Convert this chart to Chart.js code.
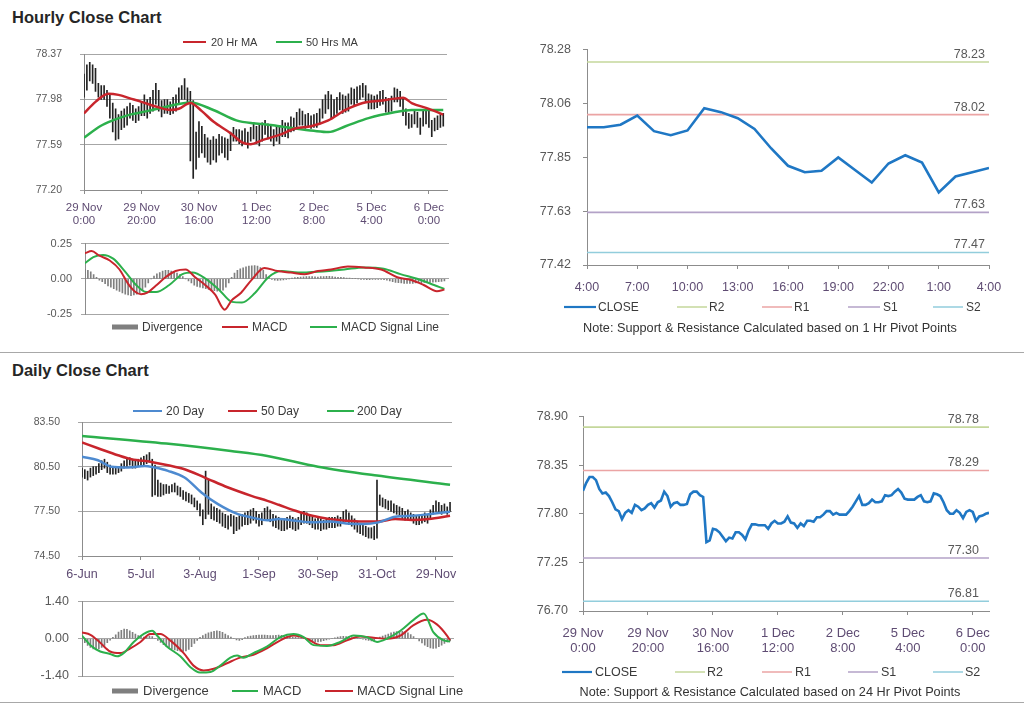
<!DOCTYPE html>
<html><head><meta charset="utf-8">
<script src="https://cdn.jsdelivr.net/npm/chart.js@4.4.1/dist/chart.umd.min.js"></script>
<style>
html,body{margin:0;padding:0;background:#fff;}
body{width:1024px;height:706px;position:relative;overflow:hidden;font-family:"Liberation Sans",Arial,sans-serif;}
canvas{position:absolute;}
.title{position:absolute;font-weight:bold;font-size:16.5px;line-height:16px;color:#262626;}
.sep{position:absolute;left:0;width:1024px;height:1px;background:#a8a8a8;}
.note{position:absolute;left:520px;width:500px;text-align:center;font-size:12.7px;line-height:14px;color:#333;}
</style></head>
<body>
<div class="title" style="left:12px;top:9px">Hourly Close Chart</div>
<div class="title" style="left:12px;top:362px">Daily Close Chart</div>
<div class="sep" style="top:352px"></div>
<div class="sep" style="top:702px"></div>
<canvas id="c1" width="470" height="205" style="left:0;top:30px"></canvas>
<canvas id="c2" width="470" height="114" style="left:0;top:228px"></canvas>
<canvas id="c3" width="534" height="320" style="left:490px;top:30px"></canvas>
<canvas id="c4" width="470" height="200" style="left:0;top:395px"></canvas>
<canvas id="c5" width="475" height="117" style="left:0;top:585px"></canvas>
<canvas id="c6" width="534" height="306" style="left:490px;top:398px"></canvas>
<div class="note" style="top:321px">Note: Support &amp; Resistance Calculated based on 1 Hr Pivot Points</div>
<div class="note" style="top:685px">Note: Support &amp; Resistance Calculated based on 24 Hr Pivot Points</div>
<script>
// ================= DATA =================
// Hourly (29 Nov 0:00 -> 6 Dec ~5:00), one value per hour
const hourTickVals = [0,20,40,60,80,100,120];
const hourTickLabels = [['29 Nov','0:00'],['29 Nov','20:00'],['30 Nov','16:00'],['1 Dec','12:00'],['2 Dec','8:00'],['5 Dec','4:00'],['6 Dec','0:00']];
const hourlyHigh = [
78.20,78.28,78.30,78.28,78.25,78.12,78.10,78.10,78.06,78.02,
77.95,77.90,77.85,77.88,77.90,77.92,77.95,77.93,77.90,77.92,
77.96,78.02,77.98,78.00,78.06,78.12,78.06,77.97,77.98,77.98,
77.96,78.00,78.02,78.08,78.10,78.16,78.08,78.05,77.97,77.70,
77.79,77.75,77.68,77.65,77.63,77.66,77.64,77.68,77.66,77.65,
77.64,77.70,77.74,77.72,77.72,77.71,77.73,77.70,77.74,77.78,
77.75,77.76,77.78,77.80,77.77,77.75,77.72,77.75,77.74,77.80,
77.78,77.78,77.83,77.82,77.87,77.90,77.88,77.85,77.86,77.84,
77.85,77.86,77.90,77.98,78.02,78.05,78.02,77.98,78.00,78.04,
78.02,78.01,78.03,78.08,78.07,78.09,78.10,78.12,78.10,78.03,
78.02,78.01,78.02,78.05,78.06,78.00,77.99,78.01,78.08,78.07,
78.05,77.99,77.90,77.86,77.85,77.88,77.87,77.82,77.88,77.89,
77.88,77.80,77.82,77.84,77.85,77.86];
const hourlyLow = [
78.00,78.06,78.14,78.12,78.05,78.00,77.98,77.98,77.92,77.82,
77.70,77.63,77.64,77.72,77.74,77.76,77.82,77.80,77.78,77.80,
77.84,77.84,77.82,77.86,77.88,77.94,77.88,77.83,77.86,77.86,
77.85,77.86,77.88,77.95,77.98,77.98,77.95,77.45,77.30,77.38,
77.48,77.52,77.48,77.44,77.42,77.46,77.44,77.50,77.52,77.48,
77.46,77.54,77.62,77.62,77.60,77.58,77.60,77.56,77.62,77.64,
77.60,77.58,77.62,77.68,77.64,77.62,77.58,77.62,77.60,77.66,
77.66,77.65,77.70,77.71,77.73,77.76,77.76,77.73,77.75,77.73,
77.74,77.74,77.77,77.82,77.86,77.90,77.82,77.83,77.86,77.89,
77.86,77.87,77.88,77.94,77.93,77.95,77.98,78.00,77.96,77.90,
77.90,77.90,77.91,77.93,77.94,77.87,77.86,77.88,77.96,77.96,
77.92,77.84,77.76,77.73,77.74,77.77,77.74,77.68,77.75,77.77,
77.74,77.66,77.71,77.72,77.74,77.75];
const hourlyClose = [
78.06,78.15,78.215,78.215,78.18,78.08,78.03,78.04,78.00,77.93,
77.85,77.83,77.74,77.81,77.84,77.81,77.90,77.88,77.84,77.86,
77.90,77.92,77.87,77.93,77.95,78.05,78.00,77.88,77.92,77.93,
77.90,77.90,77.91,78.02,78.05,78.05,78.01,77.99,77.48,77.50,
77.63,77.62,77.59,77.54,77.49,77.53,77.52,77.59,77.59,77.56,
77.51,77.61,77.68,77.68,77.67,77.67,77.67,77.63,77.69,77.72,
77.69,77.69,77.71,77.77,77.70,77.69,77.64,77.69,77.66,77.72,
77.72,77.71,77.76,77.76,77.79,77.83,77.83,77.79,77.81,77.79,
77.79,77.79,77.83,77.88,77.94,78.00,77.90,77.90,77.92,77.96,
77.93,77.93,77.94,78.01,78.00,78.01,78.05,78.08,78.04,77.97,
77.96,77.96,77.96,77.99,78.01,77.94,77.93,77.94,78.03,78.02,
78.00,77.93,77.84,77.80,77.80,77.84,77.81,77.75,77.82,77.84,
77.82,77.72,77.77,77.78,77.80,77.81];
const ma20Hours  = [0,4,8.5,12,16,20,25,30,33,37,41,45,51,55,58,62,68,73.5,79,85,91,97,103,109,111,114,120,125];
const ma20Values = [77.86,77.96,78.03,78.02,77.99,77.96,77.92,77.89,77.90,77.95,77.88,77.79,77.69,77.61,77.595,77.63,77.675,77.73,77.75,77.80,77.89,77.95,77.97,77.99,77.995,77.95,77.90,77.85];
const ma50Hours  = [0,5.6,10,16,22,29,37,45,53,59,62,68,73.5,80,85,91,99,108,114,125];
const ma50Values = [77.65,77.75,77.80,77.85,77.88,77.92,77.955,77.89,77.80,77.775,77.77,77.75,77.73,77.71,77.70,77.75,77.82,77.87,77.89,77.89];
const hPriceTickVals = [77.20,77.59,77.98,78.37];
const hPriceTickLabels = ['77.20','77.59','77.98','78.37'];

const hDivergence = [
0.065,0.06,0.05,0.03,0.01,-0.01,-0.02,-0.035,-0.05,-0.06,
-0.07,-0.08,-0.09,-0.10,-0.11,-0.115,-0.12,-0.115,-0.11,-0.10,
-0.08,-0.06,-0.03,0.0,0.02,0.035,0.045,0.055,0.06,0.06,
0.055,0.05,0.04,0.03,0.015,0.0,-0.015,-0.03,-0.045,-0.055,
-0.06,-0.065,-0.07,-0.075,-0.08,-0.085,-0.088,-0.085,-0.08,-0.06,
-0.03,0.01,0.04,0.06,0.07,0.078,0.085,0.09,0.092,0.094,
0.09,0.08,0.06,0.03,0.01,-0.005,-0.01,-0.012,-0.01,-0.008,
-0.005,0.0,0.005,0.008,0.01,0.012,0.014,0.015,0.016,0.015,
0.014,0.013,0.015,0.016,0.018,0.017,0.015,0.012,0.01,0.01,
0.008,0.006,0.005,0.004,0.003,0.0,-0.003,-0.005,-0.006,-0.006,
-0.005,-0.004,-0.003,-0.004,-0.006,-0.01,-0.015,-0.02,-0.025,-0.028,
-0.03,-0.032,-0.033,-0.033,-0.032,-0.03,-0.028,-0.027,-0.026,-0.026,
-0.025,-0.024,-0.022,-0.02,-0.018,-0.015];
const hMacdHours  = [0,2.3,5,8.6,12,14.9,17.2,19.5,21.7,24.6,28,31.5,35,38.3,41.8,45.2,48.6,51,54.3,57.8,62.4,67,71.6,76.4,81,85.6,91.4,97,103,108.6,113.2,117.8,122.4,125];
const hMacdValues = [0.182,0.197,0.164,0.13,0.066,-0.033,-0.088,-0.11,-0.099,-0.05,0.011,0.055,0.066,0.011,-0.044,-0.11,-0.219,-0.153,-0.099,-0.011,0.077,0.055,0.044,0.033,0.055,0.066,0.088,0.081,0.066,0.011,-0.007,-0.044,-0.088,-0.077];
const hSignalHours  = [0,2.9,6.3,9.8,13.8,17.8,21.3,24.7,29.3,33.9,37.4,42,46.6,51.1,54.6,59.2,63.8,68.4,74.1,81,90.2,97,103.9,109.7,115.5,120,125];
const hSignalValues = [0.11,0.154,0.169,0.143,0.055,-0.044,-0.094,-0.094,-0.044,0.033,0.044,0,-0.077,-0.164,-0.169,-0.099,0.011,0.055,0.044,0.05,0.066,0.081,0.072,0.033,0,-0.033,-0.072];
const hMacdTickVals = [-0.25,0,0.25];
const hMacdTickLabels = ['-0.25','0.00','0.25'];

// 1-hour pivot chart (last 24 hours)
const pivotHourLabels = ['4:00','7:00','10:00','13:00','16:00','19:00','22:00','1:00','4:00'];
const pivotHourTickVals = [0,3,6,9,12,15,18,21,24];
const pivotClose1h = [77.97,77.97,77.98,78.016,77.954,77.938,77.957,78.046,78.03,78.006,77.963,77.885,77.816,77.79,77.796,77.849,77.799,77.749,77.825,77.858,77.829,77.71,77.773,77.79,77.807];
const pivotNames = ['R2','R1','S1','S2'];
const pivot1hLevels = [78.23,78.02,77.63,77.47];
const pivot1hTickVals = [77.42,77.635,77.85,78.065,78.28];
const pivot1hTickLabels = ['77.42','77.63','77.85','78.06','78.28'];

// Daily (6-Jun -> 6-Dec, trading days)
const dayTickVals = [0,21,42,63,84,105,126];
const dayTickLabels = ['6-Jun','5-Jul','3-Aug','1-Sep','30-Sep','31-Oct','29-Nov'];
const dailyHigh = [
80.4,80.3,80.2,80.4,80.5,80.5,80.7,80.9,81.0,80.8,
80.6,80.5,80.4,80.5,80.7,80.9,81.0,81.1,81.0,80.9,
81.0,81.1,81.2,81.3,81.45,81.0,80.6,79.6,79.4,79.3,
79.3,79.2,79.3,79.4,79.2,79.1,78.9,78.8,78.7,78.6,
78.4,78.2,78.0,77.6,80.2,79.6,78.0,77.8,77.7,77.6,
77.4,77.3,77.2,77.3,77.2,77.1,77.2,77.3,77.4,77.5,
77.6,77.7,77.5,77.3,77.4,77.7,77.8,77.6,77.3,77.2,
77.1,77.0,77.0,77.1,77.2,77.1,77.0,77.1,77.4,77.5,
77.4,77.3,77.1,77.0,77.1,77.0,76.9,77.0,77.1,77.1,
77.1,77.2,77.1,77.5,77.6,77.4,77.2,77.0,76.8,76.7,
76.6,76.5,76.4,76.4,76.5,79.6,78.6,78.4,78.3,78.2,
78.2,78.0,77.9,77.8,77.7,77.5,77.6,77.4,77.3,77.2,
77.2,77.3,77.4,77.3,77.6,77.9,78.2,78.1,77.9,78.0,77.8,78.1];
const dailyLow = [
79.8,79.7,79.6,79.8,79.9,80.0,80.1,80.3,80.4,80.1,
80.0,80.0,80.0,80.1,80.2,80.4,80.5,80.6,80.4,80.4,
80.5,80.6,80.6,80.7,80.8,78.5,78.6,78.5,78.5,78.6,
78.7,78.7,78.8,78.8,78.6,78.5,78.3,78.2,78.1,78.0,
77.8,77.6,77.2,76.6,77.0,77.3,77.0,76.9,76.8,76.7,
76.5,76.4,76.3,76.5,76.0,76.2,76.3,76.5,76.6,76.6,
76.7,76.9,76.7,76.5,76.6,76.9,77.0,76.8,76.5,76.4,
76.3,76.2,76.2,76.3,76.4,76.3,76.2,76.3,76.6,76.7,
76.7,76.6,76.4,76.3,76.3,76.2,76.3,76.3,76.4,76.4,
76.4,76.5,76.5,76.7,76.8,76.6,76.5,76.3,76.1,76.0,
75.9,75.8,75.7,75.7,75.6,75.7,77.9,77.8,77.7,77.6,
77.5,77.4,77.3,77.2,77.0,76.9,77.0,76.9,76.7,76.6,
76.6,76.7,76.8,76.7,77.0,77.3,77.5,77.4,77.3,77.4,77.3,77.5];
const sma20Days   = [0,5.7,10.4,16.4,22.3,25.9,30.6,36.5,42.5,48.4,55.5,60.3,66,70,76,82,88,94,100,105.5,111.5,117.4,123.4,131];
const sma20Values = [81.16,80.93,80.49,80.44,80.55,80.44,80.22,79.77,78.77,77.98,77.31,77.09,76.9,76.98,76.87,76.76,76.82,76.69,76.65,76.76,77.14,77.2,77.31,77.47];
const sma50Days   = [0,5.7,12.8,17.6,24.7,30.6,36.5,43.7,52,60.3,66,70,76,82,88,94,100,105.5,111.5,117.4,123.4,131];
const sma50Values = [82.12,81.74,81.27,81.0,80.82,80.6,80.33,79.77,79.1,78.54,78.2,77.94,77.54,77.2,76.98,76.87,76.82,76.82,76.98,76.92,76.98,77.2];
const sma200Days   = [0,30,53,66,84,105,131];
const sma200Values = [82.56,82.05,81.55,81.22,80.5,79.9,79.28];
const dPriceTickVals = [74.5,77.5,80.5,83.5];
const dPriceTickLabels = ['74.50','77.50','80.50','83.50'];

const dDivergence = [
-0.05,-0.15,-0.25,-0.33,-0.38,-0.40,-0.38,-0.33,-0.25,-0.15,
-0.05,0.05,0.15,0.25,0.32,0.36,0.35,0.30,0.24,0.18,
0.12,0.08,0.06,0.08,0.10,0.08,0.02,-0.06,-0.14,-0.22,
-0.28,-0.33,-0.38,-0.42,-0.45,-0.47,-0.48,-0.46,-0.40,-0.30,
-0.18,-0.06,0.05,0.12,0.18,0.22,0.25,0.28,0.30,0.28,
0.24,0.18,0.12,0.06,0.02,-0.04,-0.06,-0.03,0.04,0.08,
0.10,0.12,0.13,0.14,0.14,0.14,0.13,0.12,0.12,0.13,
0.14,0.13,0.12,0.10,0.08,0.06,0.05,0.04,0.02,0.0,
-0.04,-0.08,-0.10,-0.12,-0.12,-0.10,-0.07,-0.04,-0.02,0.0,
0.03,0.06,0.08,0.09,0.08,0.06,0.04,0.03,0.02,0.0,
-0.02,-0.04,-0.06,-0.08,-0.06,0.0,0.06,0.10,0.14,0.18,
0.22,0.25,0.27,0.28,0.28,0.26,0.22,0.16,0.08,0.0,
-0.08,-0.16,-0.24,-0.30,-0.34,-0.36,-0.35,-0.30,-0.24,-0.18,-0.12,-0.08];
const dMacdDays   = [0,3,6.5,10,12.5,14.8,18.4,22,25,26.7,30,35,38.6,42,45.7,49.2,52.8,55.2,57.5,61,65.8,70.6,75.3,78.9,82.4,87.2,91.9,96.7,101.4,105,108.5,113.3,118,121.6,125.1,128.7,131];
const dMacdValues = [0.12,-0.24,-0.48,-0.57,-0.66,-0.54,-0.12,0.18,0.30,0.12,-0.27,-0.66,-1.07,-1.27,-1.25,-1.01,-0.71,-0.63,-0.71,-0.54,-0.30,0.06,0.18,0.06,-0.24,-0.27,-0.12,0.12,0.06,-0.12,0,0.30,0.71,0.95,0.24,-0.06,-0.10];
const dSignalDays   = [0,3,6.5,10,13.6,17.2,20.8,24.3,27.9,31.4,36.2,39.7,43.3,46.9,51.6,56.3,61,65.8,70.6,75.3,80,84.8,89.6,94.3,99,103.8,108.5,113.3,118,122.8,126.3,129.9,131];
const dSignalValues = [0.24,0.15,-0.15,-0.48,-0.54,-0.36,-0.12,0.18,0.18,-0.06,-0.54,-1.01,-1.19,-1.13,-0.92,-0.71,-0.6,-0.36,-0.06,0.12,0,-0.24,-0.24,-0.06,0.08,0.04,0,0.12,0.51,0.71,0.54,0.12,-0.06];
const dMacdTickVals = [-1.4,0,1.4];
const dMacdTickLabels = ['-1.40','0.00','1.40'];

// 24-hour pivot chart (hourly close)
const pivot24hLevels = [78.78,78.29,77.30,76.81];
const pivot24TickVals = [76.70,77.25,77.80,78.35,78.90];
const pivot24TickLabels = ['76.70','77.25','77.80','78.35','78.90'];

// ================= STYLE / HELPERS =================
const FONT = '"Liberation Sans", Arial, sans-serif';
Chart.defaults.font.family = FONT;
Chart.defaults.animation = false;
Chart.defaults.responsive = false;
Chart.defaults.plugins.legend.display = false;
Chart.defaults.plugins.tooltip.enabled = false;

const C_AXIS = '#8c8c8c', C_GRID = '#a6a6a6', C_YLAB = '#595959', C_XLAB = '#5f4c73', C_TXT = '#3a3a3a';
const C_RED = '#c8252c', C_GREEN = '#2cb04c', C_BLUE_MA = '#4d8ad0', C_CLOSE = '#1f77c4', C_DIV = '#7f7f7f';
const C_BARS = '#222222';
const PIVOT_COLORS = ['#c4d79b','#eba4a4','#b3a2c7','#92cddc'];

const pts = (xs, ys) => xs.map((x, i) => ({x, y: ys[i]}));
const idxPts = ys => ys.map((y, i) => ({x: i, y}));
const setTicks = vals => s => { s.ticks = vals.map(v => ({value: v})); };

function lineDs(label, data, color, width) {
  return {label, data, borderColor: color, backgroundColor: color, borderWidth: width, pointRadius: 0, fill: false,
          cubicInterpolationMode: 'monotone', order: 0};
}

function legendPlugin(items, size) {
  return {id: 'customLegend', afterDraw(chart) {
    const ctx = chart.ctx; ctx.save();
    ctx.font = size + 'px ' + FONT; ctx.textBaseline = 'middle'; ctx.textAlign = 'left';
    items.forEach(it => {
      const ds = chart.data.datasets[it.ds];
      if (it.box) { ctx.fillStyle = ds.backgroundColor; ctx.fillRect(it.x0, it.y - 2.5, it.x1 - it.x0, 5); }
      else { ctx.strokeStyle = ds.borderColor; ctx.lineWidth = it.w || 2; ctx.beginPath(); ctx.moveTo(it.x0, it.y); ctx.lineTo(it.x1, it.y); ctx.stroke(); }
      ctx.fillStyle = C_TXT; ctx.fillText(ds.label, it.tx, it.y + 0.5);
    });
    ctx.restore();
  }};
}

function pivotLabelPlugin(levels, offset) {
  return {id: 'pivotLabels', afterDatasetsDraw(chart) {
    const ctx = chart.ctx, ys = chart.scales.y; ctx.save();
    ctx.font = '12.5px ' + FONT; ctx.fillStyle = C_YLAB; ctx.textAlign = 'right'; ctx.textBaseline = 'alphabetic';
    levels.forEach(v => ctx.fillText(v.toFixed(2), chart.chartArea.right - offset, ys.getPixelForValue(v) - 4));
    ctx.restore();
  }};
}

function xAxis(o) {
  return Object.assign({type: 'linear', offset: false, afterFit: s => { s.height = o.h; },
    grid: {offset: false, drawOnChartArea: false, color: C_AXIS, tickLength: 4, display: o.ticks !== false},
    border: {color: C_AXIS, display: o.border !== false},
    ticks: {display: o.ticks !== false, autoSkip: false, maxRotation: 0, minRotation: 0, padding: o.pad || 8, color: C_XLAB,
            font: {size: o.fs || 11.5, lineHeight: o.lh || 1.1}, callback: (v, i) => o.labels ? o.labels[i] : ''}},
    o.ticksVals ? {afterBuildTicks: setTicks(o.ticksVals)} : {}, {min: o.min, max: o.max});
}
function yAxis(o) {
  return {min: o.min, max: o.max, afterBuildTicks: setTicks(o.vals), afterFit: s => { s.width = o.w; },
    grid: {drawOnChartArea: o.grid !== false, color: o.grid !== false ? C_GRID : C_AXIS, tickLength: 4},
    border: {color: C_AXIS},
    ticks: {padding: o.pad, color: C_YLAB, font: {size: o.fs}, callback: (v, i) => o.labels[i]}};
}

// ================= CHART 1: hourly price =================
new Chart(document.getElementById('c1'), {
  type: 'line',
  data: {datasets: [
    lineDs('20 Hr MA', pts(ma20Hours, ma20Values), C_RED, 2.5),
    lineDs('50 Hrs MA', pts(ma50Hours, ma50Values), C_GREEN, 2.5),
    {type: 'bar', label: 'HLC', data: hourlyHigh.map((h, i) => ({x: i, y: [hourlyLow[i], h]})),
     backgroundColor: C_BARS, barThickness: 1, order: 1}
  ]},
  options: {layout: {padding: {top: 23, right: 23, left: 0, bottom: 0}},
    scales: {x: xAxis({min: 0, max: 126.3, h: 45, ticksVals: hourTickVals, labels: hourTickLabels, pad: 8}),
             y: yAxis({min: 77.20, max: 78.37, vals: hPriceTickVals, labels: hPriceTickLabels, w: 84, pad: 18, fs: 10.5})}},
  plugins: [legendPlugin([{ds: 0, x0: 183, x1: 206, tx: 211, y: 12, w: 2}, {ds: 1, x0: 276, x1: 302, tx: 306, y: 12, w: 2}], 11)]
});

// ================= CHART 2: hourly MACD =================
new Chart(document.getElementById('c2'), {
  type: 'line',
  data: {datasets: [
    {type: 'bar', label: 'Divergence', data: idxPts(hDivergence), backgroundColor: C_DIV, barThickness: 1, order: 2},
    lineDs('MACD', pts(hMacdHours, hMacdValues), C_RED, 2),
    lineDs('MACD Signal Line', pts(hSignalHours, hSignalValues), C_GREEN, 2)
  ]},
  options: {layout: {padding: {top: 10, right: 21, left: 0, bottom: 0}},
    scales: {x: xAxis({min: 0, max: 126.6, h: 28, ticks: false, border: false}),
             y: yAxis({min: -0.25, max: 0.25, vals: hMacdTickVals, labels: hMacdTickLabels, w: 85, pad: 9, fs: 11})}},
  plugins: [legendPlugin([{ds: 0, box: true, x0: 112, x1: 138, tx: 142, y: 99}, {ds: 1, x0: 222, x1: 248, tx: 252, y: 99},
                          {ds: 2, x0: 310, x1: 337, tx: 341, y: 99}], 12)]
});

// ================= CHART 3: 1-hour pivot =================
function pivotSets(levels, maxX) {
  return levels.map((v, i) => ({label: pivotNames[i], data: [{x: 0, y: v}, {x: maxX, y: v}], borderColor: PIVOT_COLORS[i],
    backgroundColor: PIVOT_COLORS[i], borderWidth: 1.6, pointRadius: 0, order: 1}));
}
new Chart(document.getElementById('c3'), {
  type: 'line',
  data: {datasets: [
    Object.assign(lineDs('CLOSE', idxPts(pivotClose1h), C_CLOSE, 2.6), {cubicInterpolationMode: 'default', tension: 0}),
    ...pivotSets(pivot1hLevels, 24)
  ]},
  options: {layout: {padding: {top: 17, right: 35, left: 0, bottom: 0}},
    scales: {x: xAxis({min: 0, max: 24, h: 85, ticksVals: pivotHourTickVals, labels: pivotHourLabels, pad: 11, fs: 12.5, lh: 1.2}),
             y: yAxis({min: 77.42, max: 78.28, vals: pivot1hTickVals, labels: pivot1hTickLabels, w: 97, pad: 12, fs: 12.5, grid: false})}},
  plugins: [pivotLabelPlugin(pivot1hLevels, 4),
            legendPlugin([{ds: 0, x0: 74, x1: 106, tx: 108, y: 277, w: 2.2}, {ds: 1, x0: 187, x1: 217, tx: 219, y: 277, w: 1.5},
                          {ds: 2, x0: 272, x1: 302, tx: 304, y: 277, w: 1.5}, {ds: 3, x0: 358, x1: 390, tx: 393, y: 277, w: 1.5},
                          {ds: 4, x0: 443, x1: 473, tx: 476, y: 277, w: 1.5}], 12)]
});

// ================= CHART 4: daily price =================
new Chart(document.getElementById('c4'), {
  type: 'line',
  data: {datasets: [
    lineDs('20 Day', pts(sma20Days, sma20Values), C_BLUE_MA, 2.5),
    lineDs('50 Day', pts(sma50Days, sma50Values), C_RED, 2.5),
    lineDs('200 Day', pts(sma200Days, sma200Values), C_GREEN, 2.5),
    {type: 'bar', label: 'HLC', data: dailyHigh.map((h, i) => ({x: i, y: [dailyLow[i], h]})),
     backgroundColor: C_BARS, barThickness: 1, order: 1}
  ]},
  options: {layout: {padding: {top: 27, right: 18, left: 0, bottom: 0}},
    scales: {x: xAxis({min: 0, max: 131.7, h: 39, ticksVals: dayTickVals, labels: dayTickLabels, pad: 7, fs: 12.5, lh: 1.2}),
             y: yAxis({min: 74.5, max: 83.5, vals: dPriceTickVals, labels: dPriceTickLabels, w: 82, pad: 18, fs: 10.5})}},
  plugins: [legendPlugin([{ds: 0, x0: 133, x1: 162, tx: 166, y: 16}, {ds: 1, x0: 228, x1: 257, tx: 261, y: 16},
                          {ds: 2, x0: 327, x1: 354, tx: 357, y: 16}], 12)]
});

// ================= CHART 5: daily MACD =================
new Chart(document.getElementById('c5'), {
  type: 'line',
  data: {datasets: [
    {type: 'bar', label: 'Divergence', data: idxPts(dDivergence), backgroundColor: C_DIV, barThickness: 1, order: 2},
    lineDs('MACD', pts(dMacdDays, dMacdValues), C_GREEN, 2),
    lineDs('MACD Signal Line', pts(dSignalDays, dSignalValues), C_RED, 2)
  ]},
  options: {layout: {padding: {top: 12, right: 21, left: 0, bottom: 0}},
    scales: {x: xAxis({min: 0, max: 132.4, h: 26, ticks: false, border: false}),
             y: yAxis({min: -1.4, max: 1.4, vals: dMacdTickVals, labels: dMacdTickLabels, w: 82, pad: 9, fs: 12.5})}},
  plugins: [legendPlugin([{ds: 0, box: true, x0: 112, x1: 138, tx: 143, y: 106}, {ds: 1, x0: 232, x1: 258, tx: 263, y: 106},
                          {ds: 2, x0: 325, x1: 353, tx: 357, y: 106}], 13)]
});

// ================= CHART 6: 24-hour pivot =================
new Chart(document.getElementById('c6'), {
  type: 'line',
  data: {datasets: [
    Object.assign(lineDs('CLOSE', idxPts(hourlyClose), C_CLOSE, 2.6), {cubicInterpolationMode: 'default', tension: 0}),
    ...pivotSets(pivot24hLevels, 125)
  ]},
  options: {layout: {padding: {top: 9, right: 35, left: 0, bottom: 0}},
    scales: {x: xAxis({min: 0, max: 125, h: 93, ticksVals: hourTickVals, labels: hourTickLabels, pad: 11, fs: 13, lh: 1.15}),
             y: yAxis({min: 76.70, max: 78.90, vals: pivot24TickVals, labels: pivot24TickLabels, w: 93, pad: 11, fs: 12.5, grid: false})}},
  plugins: [pivotLabelPlugin(pivot24hLevels, 10),
            legendPlugin([{ds: 0, x0: 72, x1: 102, tx: 105, y: 274, w: 2.2}, {ds: 1, x0: 185, x1: 215, tx: 217, y: 274, w: 1.5},
                          {ds: 2, x0: 272, x1: 302, tx: 305, y: 274, w: 1.5}, {ds: 3, x0: 358, x1: 388, tx: 391, y: 274, w: 1.5},
                          {ds: 4, x0: 443, x1: 473, tx: 475, y: 274, w: 1.5}], 12.5)]
});
</script>
</body></html>
